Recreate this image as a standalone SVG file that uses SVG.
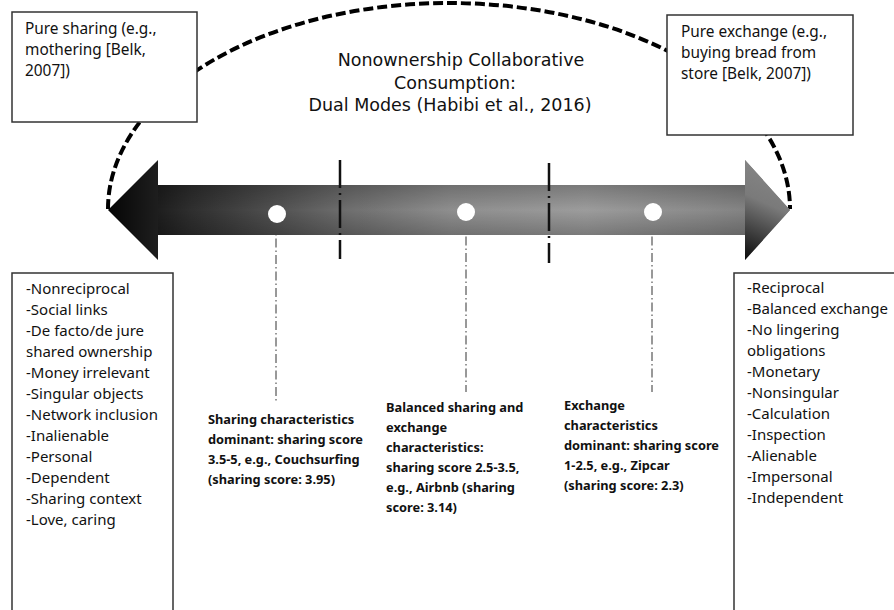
<svg xmlns="http://www.w3.org/2000/svg" width="894" height="610" viewBox="0 0 894 610">
  <defs>
    <linearGradient id="shaftGrad" x1="108" y1="0" x2="790" y2="0" gradientUnits="userSpaceOnUse">
      <stop offset="0" stop-color="#050505"/>
      <stop offset="0.12" stop-color="#2e2e2e"/>
      <stop offset="0.35" stop-color="#6e6e6e"/>
      <stop offset="0.5" stop-color="#8e8e8e"/>
      <stop offset="0.7" stop-color="#9c9c9c"/>
      <stop offset="0.88" stop-color="#8a8a8a"/>
      <stop offset="1" stop-color="#7a7a7a"/>
    </linearGradient>
    <linearGradient id="bandShade" x1="0" y1="185" x2="0" y2="235" gradientUnits="userSpaceOnUse">
      <stop offset="0" stop-color="#000" stop-opacity="0.22"/>
      <stop offset="0.5" stop-color="#000" stop-opacity="0"/>
      <stop offset="1" stop-color="#000" stop-opacity="0.22"/>
    </linearGradient>
    <linearGradient id="headShade" x1="790" y1="160" x2="745" y2="260" gradientUnits="userSpaceOnUse">
      <stop offset="0" stop-color="#8a8a8a"/>
      <stop offset="0.45" stop-color="#7a7a7a"/>
      <stop offset="1" stop-color="#0a0a0a"/>
    </linearGradient>
    <style>
      .box { fill: #fff; stroke: #333; stroke-width: 1.5; }
      .txt { font-family: "Noto Sans", "DejaVu Sans", sans-serif; font-size: 15px; fill: #111; }
      .top { font-size: 15.4px; }
      .title { font-family: "DejaVu Sans", "Noto Sans", sans-serif; font-size: 17.5px; fill: #111; text-anchor: middle; }
      .mid { font-family: "Noto Sans", "DejaVu Sans", sans-serif; font-size: 12.8px; font-weight: bold; fill: #111; }
      .divider { stroke: #111; stroke-width: 2.5; stroke-dasharray: 28 5 2 5; fill: none; }
      .leader { stroke: #333; stroke-width: 1; stroke-dasharray: 9 3 1.5 3; fill: none; }
      .arc { stroke: #000; stroke-width: 4; stroke-dasharray: 10 4; fill: none; }
      .dot { fill: #fff; }
    </style>
  </defs>

  <!-- dashed arc spanning both poles, plus leaders from the sample points -->
  <g id="connectors">
    <path class="arc" d="M108,209 A341,206 0 0 1 790,209"/>
    <line class="leader" x1="276" y1="222" x2="276" y2="402"/>
    <line class="leader" x1="466" y1="220" x2="466" y2="392"/>
    <line class="leader" x1="652" y1="220" x2="652" y2="392"/>
  </g>

  <!-- double-headed continuum arrow -->
  <g id="continuum">
    <path d="M108,210 L158,160 L158,185 L745,185 L745,160 L790,210 L745,260 L745,235 L158,235 L158,260 Z" fill="url(#shaftGrad)"/>
    <rect x="158" y="185" width="587" height="50" fill="url(#bandShade)"/>
    <path d="M745,160 L790,210 L745,260 Z" fill="url(#headShade)"/>
    <line class="divider" x1="340" y1="160" x2="340" y2="259"/>
    <line class="divider" x1="549" y1="163" x2="549" y2="263"/>
    <circle class="dot" cx="277" cy="214" r="9"/>
    <circle class="dot" cx="466" cy="212" r="9"/>
    <circle class="dot" cx="653" cy="212" r="9"/>
  </g>

  <g id="title">
    <text class="title" x="461" y="66">Nonownership Collaborative</text>
    <text class="title" x="455" y="88.5">Consumption:</text>
    <text class="title" x="450" y="111">Dual Modes (Habibi et al., 2016)</text>
  </g>

  <g id="pure-sharing">
    <rect class="box" x="12" y="12" width="185" height="110"/>
    <text class="txt top" x="25" y="34">Pure sharing (e.g.,</text>
    <text class="txt top" x="25" y="55">mothering [Belk,</text>
    <text class="txt top" x="25" y="76">2007])</text>
  </g>

  <g id="pure-exchange">
    <rect class="box" x="667" y="15" width="186" height="120"/>
    <text class="txt top" x="681" y="37">Pure exchange (e.g.,</text>
    <text class="txt top" x="681" y="58">buying bread from</text>
    <text class="txt top" x="681" y="79">store [Belk, 2007])</text>
  </g>

  <g id="sharing-traits">
    <path class="box" d="M12,620 L12,273 L173,273 L173,620"/>
    <g class="txt">
      <text x="26" y="294">-Nonreciprocal</text>
      <text x="26" y="315">-Social links</text>
      <text x="26" y="336">-De facto/de jure</text>
      <text x="26" y="357">shared ownership</text>
      <text x="26" y="378">-Money irrelevant</text>
      <text x="26" y="399">-Singular objects</text>
      <text x="26" y="420">-Network inclusion</text>
      <text x="26" y="441">-Inalienable</text>
      <text x="26" y="462">-Personal</text>
      <text x="26" y="483">-Dependent</text>
      <text x="26" y="504">-Sharing context</text>
      <text x="26" y="525">-Love, caring</text>
    </g>
  </g>

  <g id="exchange-traits">
    <path class="box" d="M900,273 L734,273 L734,620"/>
    <g class="txt">
      <text x="747" y="293">-Reciprocal</text>
      <text x="747" y="314">-Balanced exchange</text>
      <text x="747" y="335">-No lingering</text>
      <text x="747" y="356">obligations</text>
      <text x="747" y="377">-Monetary</text>
      <text x="747" y="398">-Nonsingular</text>
      <text x="747" y="419">-Calculation</text>
      <text x="747" y="440">-Inspection</text>
      <text x="747" y="461">-Alienable</text>
      <text x="747" y="482">-Impersonal</text>
      <text x="747" y="503">-Independent</text>
    </g>
  </g>

  <g id="sharing-dominant">
    <g class="mid">
      <text x="208" y="424">Sharing characteristics</text>
      <text x="208" y="444">dominant: sharing score</text>
      <text x="208" y="464">3.5-5, e.g., Couchsurfing</text>
      <text x="208" y="484">(sharing score: 3.95)</text>
    </g>
  </g>

  <g id="balanced">
    <g class="mid">
      <text x="386" y="412">Balanced sharing and</text>
      <text x="386" y="432">exchange</text>
      <text x="386" y="452">characteristics:</text>
      <text x="386" y="472">sharing score 2.5-3.5,</text>
      <text x="386" y="492">e.g., Airbnb (sharing</text>
      <text x="386" y="512">score: 3.14)</text>
    </g>
  </g>

  <g id="exchange-dominant">
    <g class="mid">
      <text x="564" y="410">Exchange</text>
      <text x="564" y="430">characteristics</text>
      <text x="564" y="450">dominant: sharing score</text>
      <text x="564" y="470">1-2.5, e.g., Zipcar</text>
      <text x="564" y="490">(sharing score: 2.3)</text>
    </g>
  </g>
</svg>
